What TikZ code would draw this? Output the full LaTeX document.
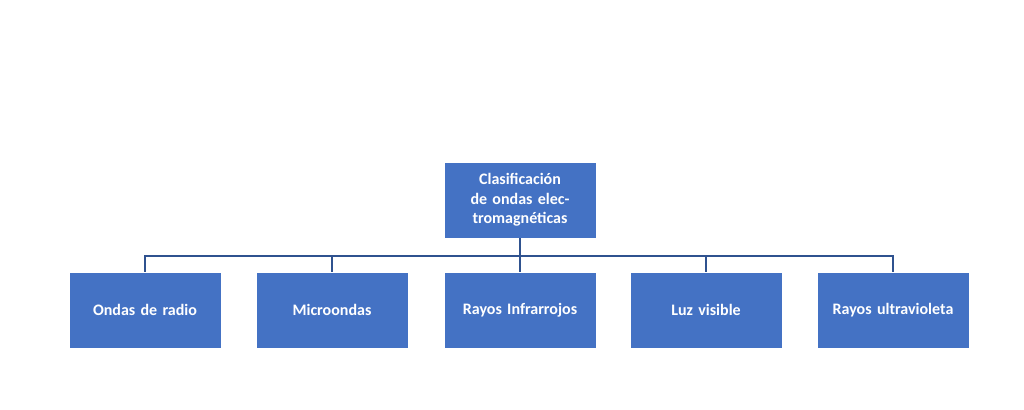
\documentclass[tikz,border=0pt]{standalone}
\usepackage{fontspec}
\setmainfont{Carlito}
\definecolor{boxblue}{HTML}{4472C4}
\definecolor{lineblue}{HTML}{2F528F}
\begin{document}
\begin{tikzpicture}[x=0.75pt,y=-0.75pt,
  box/.style={fill=boxblue,draw=white,line width=0.6pt,minimum width=114pt,minimum height=57pt,text width=108pt,align=center,font=\bfseries\fontsize{12}{14.5}\selectfont,text=white,inner sep=1pt},
  conn/.style={draw=lineblue,line width=1.5pt}]
\useasboundingbox[fill=white] (0,0) rectangle (1024,410);
\node[box] (top) at (520,200) {Clasificación de ondas electromagnéticas};
\node[box] (b1) at (145,310) {Ondas de radio};
\node[box] (b2) at (332,310) {Microondas};
\node[box] (b3) at (520,310) {Rayos Infrarrojos};
\node[box] (b4) at (706,310) {Luz visible};
\node[box] (b5) at (893,310) {Rayos ultravioleta};
\coordinate (j) at (520,256);
\draw[conn] (top.south) -- (j);
\foreach \b in {b1,b2,b3,b4,b5} \draw[conn] (j) -| (\b.north);
\end{tikzpicture}
\end{document}
